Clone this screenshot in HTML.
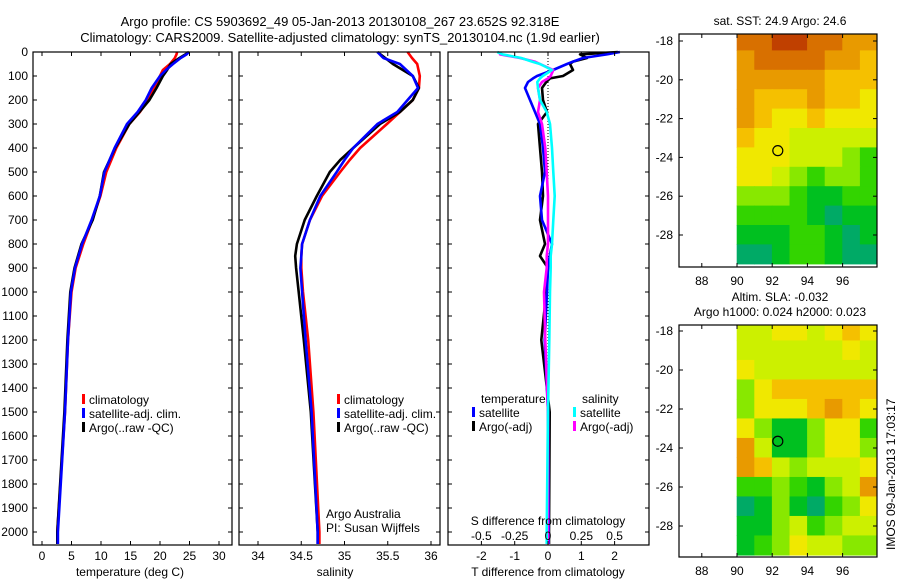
<!DOCTYPE html>
<html><head><meta charset="utf-8">
<style>
html,body{margin:0;padding:0;background:#fff;}
svg{display:block;font-family:"Liberation Sans",sans-serif;}
text{font-size:12px;fill:#000;}
</style></head>
<body>
<svg id="fig" width="900" height="580" viewBox="0 0 900 580">
<text x="340" y="26" text-anchor="middle" style="font-size:13px">Argo profile: CS 5903692_49 05-Jan-2013 20130108_267 23.652S 92.318E</text>
<text x="340" y="42" text-anchor="middle" style="font-size:13px">Climatology: CARS2009. Satellite-adjusted climatology: synTS_20130104.nc (1.9d earlier)</text>
<g id="p1"></g>
<g id="p2"></g>
<g id="p3"></g>
<g id="m1"></g>
<g id="m2"></g>
<text x="780" y="25" text-anchor="middle">sat. SST: 24.9 Argo: 24.6</text>
<text x="780" y="301" text-anchor="middle">Altim. SLA: -0.032</text>
<text x="780" y="316" text-anchor="middle">Argo h1000: 0.024 h2000: 0.023</text>
<text transform="translate(895,550) rotate(-90)">IMOS 09-Jan-2013 17:03:17</text>
</svg>
<script>
// ---------- data ----------
const tDepth = [0,10,25,50,75,100,150,200,250,300,400,500,600,700,800,900,1000,1200,1500,2000,2050];
const tClim  = [22.9,22.8,22.5,21.7,20.5,20,19,18,16.6,14.8,12.6,10.9,9.9,8.5,7,5.7,5.0,4.4,3.9,2.6,2.6];
const tSat   = [24.9,24.5,23.5,22.2,21,20,18.6,17.6,16.2,14.4,12.3,10.6,9.8,8.4,6.8,5.6,4.9,4.4,3.9,2.7,2.7];
const tArgo  = [24.9,24.3,23.3,21.8,21.2,20.5,19.4,18.2,16.5,14.8,12.4,10.5,9.8,8.6,6.7,5.5,4.8,4.3,3.8,2.6,2.6];
const sDepth = [0,25,50,100,150,200,250,300,400,450,500,600,700,800,850,900,1000,1200,1500,2000,2050];
const sClim  = [35.73,35.78,35.84,35.87,35.86,35.79,35.64,35.49,35.18,35.06,34.95,34.74,34.60,34.51,34.50,34.50,34.52,34.58,34.64,34.71,34.71];
const sSat   = [35.38,35.45,35.64,35.79,35.85,35.73,35.61,35.38,35.10,35.00,34.91,34.72,34.60,34.51,34.50,34.49,34.51,34.55,34.62,34.69,34.69];
const sArgo  = [35.38,35.47,35.56,35.79,35.86,35.79,35.64,35.41,35.10,34.95,34.83,34.68,34.54,34.45,34.43,34.44,34.47,34.53,34.61,34.69,34.69];
const dDepth = [0,10,25,40,50,75,100,110,125,150,200,250,300,400,500,600,700,800,850,900,1000,1200,1500,2000,2050];
const dTsat  = [2.16,1.77,1.05,0.75,0.57,0.15,-0.33,-0.45,-0.6,-0.69,-0.54,-0.39,-0.24,-0.15,-0.09,-0.24,-0.18,0.12,0.05,0,-0.03,-0.1,0,0.02,0.02];
const dTargo = [2.1,0.96,1.17,0.75,0.66,0.75,0.45,0.06,-0.05,-0.18,-0.15,-0.03,-0.3,-0.24,-0.18,-0.15,-0.24,-0.09,-0.24,0,-0.05,-0.2,0.05,0.03,0.03];
const dSsat  = [-0.38,-0.34,-0.2,-0.12,-0.06,0.03,-0.04,-0.06,-0.08,-0.075,-0.06,-0.01,0.015,0.03,0.04,0.05,0.04,0.03,0.02,0.02,0.015,0.01,0.0,-0.01,-0.01];
const dSargo = [-0.36,-0.36,-0.21,-0.1,-0.06,0.04,0.02,0.0,-0.045,-0.075,-0.06,-0.075,-0.045,-0.02,-0.01,0.0,0.0,0.0,-0.01,-0.01,-0.03,-0.02,0.0,0.0,0.0];
const depthTicks = [0,100,200,300,400,500,600,700,800,900,1000,1100,1200,1300,1400,1500,1600,1700,1800,1900,2000];
const tTicks = [0,5,10,15,20,25,30];
const sTicks = [34,34.5,35,35.5,36];
const dTTicks = [-2,-1,0,1,2];
const dSTicks = [-0.5,-0.25,0,0.25,0.5];
const latTicks = [-18,-20,-22,-24,-26,-28];
const lonTicks = [88,90,92,94,96];
// map cells: rows lat -18..-29 (1 deg), cols lon 90..97 (1 deg); colour index 0 (dark green) .. 9 (red-brown)
const sstGrid = [
[8,8,9,9,8,8,7,7],[7,8,8,8,8,7,7,6],[7,7,7,7,7,6,6,6],[7,6,6,6,7,6,6,5],
[7,6,5,5,6,5,5,5],[6,5,5,4,4,4,4,4],[5,5,5,4,4,4,3,2],[5,5,4,3,2,3,3,2],
[3,3,3,2,1,1,2,2],[2,2,2,2,1,0,1,1],[1,1,1,2,2,1,0,1],[0,0,1,2,2,1,0,0]];
const slaGrid = [
[4,4,5,5,4,5,6,5],[4,4,4,4,4,4,5,4],[5,4,4,4,4,4,4,4],[3,5,6,6,6,6,6,6],
[3,5,5,5,6,7,6,5],[5,3,1,1,3,5,5,2],[7,4,1,1,3,5,5,3],[7,6,4,3,4,4,4,5],
[2,2,3,2,1,3,4,7],[0,1,3,1,0,2,3,5],[1,1,3,4,2,3,4,4],[1,2,3,5,4,4,3,3]];
const floatLat = -23.652, floatLon = 92.318;

// ---------- helpers ----------
const NS = "http://www.w3.org/2000/svg";
function mk(parent, tag, attrs, txt){
  const e = document.createElementNS(NS, tag);
  for (const k in attrs) e.setAttribute(k, attrs[k]);
  if (txt !== undefined) e.textContent = txt;
  parent.appendChild(e); return e;
}
const yD = d => 52 + d * 0.24;
const TOP = 52, BOT = 545;

function frame(g, x0, x1){
  const r = mk(g, 'rect', {x:x0, y:TOP, width:x1-x0, height:BOT-TOP, fill:'none', stroke:'#000', 'stroke-width':1.2});
  
  
}
function depthTickMarks(g, x0, x1, labels){
  depthTicks.forEach(d => {
    const y = yD(d);
    mk(g,'line',{x1:x0,y1:y,x2:x0+4,y2:y,stroke:'#000'});
    mk(g,'line',{x1:x1,y1:y,x2:x1-4,y2:y,stroke:'#000'});
    if (labels){
      const t = mk(g,'text',{x:x0-5,y:y+4,'text-anchor':'end'}, String(d));
      
      
    }
  });
}
function xTicks(g, vals, fx, yLab, fmt){
  vals.forEach(v => {
    const x = fx(v);
    mk(g,'line',{x1:x,y1:BOT,x2:x,y2:BOT-4,stroke:'#000'});
    mk(g,'line',{x1:x,y1:TOP,x2:x,y2:TOP+4,stroke:'#000'});
    const t = mk(g,'text',{x:x,y:yLab,'text-anchor':'middle'}, fmt ? fmt(v) : String(v));
    
    
  });
}
function line(g, depths, vals, fx, color, name){
  const pts = depths.map((d,i) => fx(vals[i]).toFixed(1) + ',' + yD(d).toFixed(1)).join(' ');
  const p = mk(g,'polyline',{points:pts, fill:'none', stroke:color, 'stroke-width':2.6, 'stroke-linejoin':'round'});
  
  
}
function legend(g, x, y, items){
  items.forEach((it,i) => {
    const yy = y + i*14;
    mk(g,'rect',{x:x, y:yy-10, width:3, height:10, fill:it[1]});
    const t = mk(g,'text',{x:x+7, y:yy}, it[0]);
    
    
  });
}

// ---------- panel 1: temperature ----------
const p1 = document.getElementById('p1');
const fT = v => 42 + v * 5.9;
line(p1, tDepth, tClim, fT, '#ff0000', 'temp-climatology-line');
line(p1, tDepth, tArgo, fT, '#000000', 'temp-argo-line');
line(p1, tDepth, tSat, fT, '#0000ff', 'temp-satellite-line');
frame(p1, 33, 232);
depthTickMarks(p1, 33, 232, true);
xTicks(p1, tTicks, fT, 560);
mk(p1,'text',{x:130,y:576,'text-anchor':'middle'},'temperature (deg C)');
legend(p1, 82, 404, [['climatology','#ff0000'],['satellite-adj. clim.','#0000ff'],['Argo(..raw -QC)','#000']]);

// ---------- panel 2: salinity ----------
const p2 = document.getElementById('p2');
const fS = v => 258 + (v - 34) * 86.5;
line(p2, sDepth, sClim, fS, '#ff0000', 'sal-climatology-line');
line(p2, sDepth, sArgo, fS, '#000000', 'sal-argo-line');
line(p2, sDepth, sSat, fS, '#0000ff', 'sal-satellite-line');
frame(p2, 239, 440);
depthTickMarks(p2, 239, 440, false);
xTicks(p2, sTicks, fS, 560);
mk(p2,'text',{x:335,y:576,'text-anchor':'middle'},'salinity');
legend(p2, 337, 404, [['climatology','#ff0000'],['satellite-adj. clim.','#0000ff'],['Argo(..raw -QC)','#000']]);
mk(p2,'text',{x:326,y:518},'Argo Australia');
mk(p2,'text',{x:326,y:532},'PI: Susan Wijffels');

// ---------- panel 3: differences ----------
const p3 = document.getElementById('p3');
const fDT = v => 548 + v * 33.3;
const fDS = v => 548 + v * 133.3;
mk(p3,'line',{x1:548,y1:TOP,x2:548,y2:400,stroke:'#000','stroke-dasharray':'1,2'});
line(p3, dDepth, dTargo, fDT, '#000000', 'tdiff-argo-line');
line(p3, dDepth, dTsat, fDT, '#0000ff', 'tdiff-satellite-line');
line(p3, dDepth, dSargo, fDS, '#ff00ff', 'sdiff-argo-line');
line(p3, dDepth, dSsat, fDS, '#00ffff', 'sdiff-satellite-line');
frame(p3, 448, 649);
depthTickMarks(p3, 448, 649, false);
xTicks(p3, dTTicks, fDT, 560);
dSTicks.forEach(v => {
  const t = mk(p3,'text',{x:fDS(v),y:540,'text-anchor':'middle'}, String(v));
  
  
});
mk(p3,'text',{x:548,y:525,'text-anchor':'middle'},'S difference from climatology');
mk(p3,'text',{x:548,y:576,'text-anchor':'middle'},'T difference from climatology');
mk(p3,'text',{x:481,y:403},'temperature');
mk(p3,'text',{x:582,y:403},'salinity');
legend(p3, 472, 417, [['satellite','#0000ff'],['Argo(-adj)','#000']]);
legend(p3, 573, 417, [['satellite','#00ffff'],['Argo(-adj)','#ff00ff']]);

// ---------- maps ----------
const palette = ['#00aa66','#00c020','#33d400','#88e800','#ccf000','#f0e800','#f5c000','#e89a00','#d87000','#c04000'];
function drawMap(id, grid, top, bot, latA, yA, latB, yB){
  const g = document.getElementById(id);
  const L = 679, R = 877;
  const fLon = v => 737 + (v - 90) * 17.6;
  const fLat = v => yA + (v - latA) * (yB - yA) / (latB - latA);
  const cells = mk(g,'g',{});
  grid.forEach((row, r) => row.forEach((c, k) => {
    const x0 = fLon(90 + k), x1 = Math.min(fLon(91 + k), R);
    const y0 = Math.max(fLat(-17.5 - r), top), y1 = Math.min(fLat(-18.5 - r), bot);
    const rc = mk(cells,'rect',{x:x0-0.3,y:y0-0.3,width:x1-x0+0.6,height:y1-y0+0.6,fill:palette[c]});
    
    
  }));
  mk(g,'rect',{x:L,y:top,width:R-L,height:bot-top,fill:'none',stroke:'#000','stroke-width':1.2});
  latTicks.forEach(v => {
    const y = fLat(v);
    mk(g,'line',{x1:L,y1:y,x2:L+4,y2:y,stroke:'#000'});
    mk(g,'line',{x1:R,y1:y,x2:R-4,y2:y,stroke:'#000'});
    const t = mk(g,'text',{x:L-6,y:y+4,'text-anchor':'end'}, String(v));
    
    
  });
  lonTicks.forEach(v => {
    const x = fLon(v);
    mk(g,'line',{x1:x,y1:bot,x2:x,y2:bot-4,stroke:'#000'});
    mk(g,'line',{x1:x,y1:top,x2:x,y2:top+4,stroke:'#000'});
    const t = mk(g,'text',{x:x,y:bot+18,'text-anchor':'middle'}, String(v));
    
    
  });
  const c = mk(g,'circle',{cx:fLon(floatLon),cy:fLat(floatLat),r:5,fill:'none',stroke:'#000','stroke-width':1.2});
  
  
}
drawMap('m1', sstGrid, 34, 267, -18, 41, -28, 235);
drawMap('m2', slaGrid, 325, 557, -18, 331, -28, 526);
</script>
</body></html>
